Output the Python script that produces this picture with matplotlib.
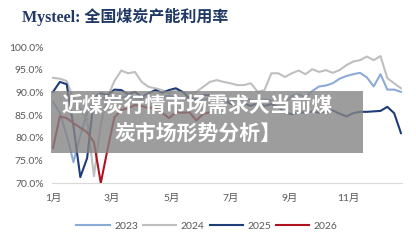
import numpy as np
import matplotlib.pyplot as plt
from matplotlib.patches import Rectangle

# weekly capacity utilisation (%)
y2023 = [87.9, 85.5, 80.5, 74.6, 80.5, 85.5, 88.0, 88.6, 88.9, 88.4, 88.8, 89.2,
         88.7, 88.5, 89.0, 88.6, 88.9, 89.3, 88.8, 88.4, 88.9, 88.6, 88.2, 88.7,
         89.0, 88.5, 88.1, 88.4, 88.8, 88.3, 88.0, 88.4, 88.2, 87.8, 87.5, 89.2,
         89.6, 88.8, 90.3, 91.3, 91.5, 92.0, 93.0, 93.6, 94.0, 94.3, 93.3, 91.3,
         94.0, 90.6, 90.6, 90.1]
y2024 = [93.2, 93.0, 92.5, 88.5, 86.5, 84.0, 71.5, 83.0, 89.0, 92.5, 94.8, 94.2,
         94.5, 92.3, 91.2, 90.9, 90.5, 89.8, 90.5, 90.1, 89.8, 90.1, 91.2, 92.3,
         92.7, 92.3, 92.0, 91.6, 91.6, 92.0, 90.1, 90.5, 94.2, 94.2, 93.4, 94.2,
         94.8, 94.0, 95.1, 94.5, 94.9, 94.3, 94.9, 96.0, 96.8, 97.1, 97.9, 97.1,
         98.0, 93.1, 92.0, 90.9]
y2025 = [90.1, 92.3, 91.8, 82.5, 71.3, 75.5, 88.8, 89.8, 89.4, 90.6, 90.5, 89.6,
         90.1, 89.0, 89.8, 90.5, 89.9, 90.5, 90.9, 90.1, 88.7, 88.3, 89.4, 89.4,
         89.4, 88.3, 87.5, 86.8, 87.5, 87.0, 87.6, 87.0, 87.4, 86.8, 85.5, 85.2,
         85.6, 85.5, 85.8, 85.5, 85.7, 86.0, 85.3, 84.7, 85.4, 85.7, 85.7, 85.8,
         85.9, 86.8, 85.4, 81.0]
y2026 = [77.7, 84.7, 84.3, 83.2, 82.2, 81.2, 79.0, 70.0, 77.5, 84.5, 86.1, 86.5,
         87.2, 87.0, 86.5, 86.8, 85.5, 84.3, 85.6, 85.5, 85.6, 83.8, 85.2, 85.6]

years = ['2023', '2024', '2025', '2026']
colors = ['#8eaad6', '#bfbfbf', '#1f3c78', '#b0121f']
months = ['1月', '3月', '5月', '7月', '9月', '11月']
month_no = [1, 3, 5, 7, 9, 11]

plt.rcParams['font.family'] = ['Lato', 'Noto Sans CJK SC', 'DejaVu Sans']

fig = plt.figure(figsize=(4.16, 2.46), dpi=100)
ax = fig.add_axes([52/416, 1-183/246, 350/416, 136/246])

for name, vals, c in zip(years, [y2023, y2024, y2025, y2026], colors):
    ax.plot(np.arange(len(vals)), vals, color=c, lw=1.5, label=name)

ax.set_xlim(-0.15, 51.15)
ax.set_ylim(70, 100)
ax.set_yticks(np.arange(70, 101, 5))
ax.set_yticklabels(['%.1f%%' % v for v in np.arange(70, 101, 5)])
ax.set_xticks([(m - 1) * 52 / 12 for m in month_no])
ax.set_xticklabels(months)
ax.tick_params(length=0, labelsize=7.5, colors='#595959')
ax.tick_params(axis='x', pad=8)
ax.tick_params(axis='y', pad=6)
for s in ['top', 'right', 'left']:
    ax.spines[s].set_visible(False)
ax.spines['bottom'].set_color('#d9d9d9')

ax.legend(loc='center', bbox_to_anchor=(207/416, 1-226/246),
          bbox_transform=fig.transFigure, ncol=4, frameon=False,
          fontsize=7.5, handlelength=3.2, handletextpad=0.4,
          columnspacing=0.5, labelcolor='#595959')

fig.text(22/416, 1-17/246, 'Mysteel: 全国煤炭产能利用率', fontsize=11.5,
         fontweight='heavy', color='#1f3864', va='center',
         family=['Liberation Serif', 'Noto Sans CJK SC'])

# grey banner laid over the plot
fig.patches.append(Rectangle((51/416, 1-153/246), 312/416, 62/246,
                             transform=fig.transFigure, facecolor='#858585',
                             alpha=0.8, edgecolor='none', zorder=5))
fig.text(197/416, 1-105/246, '近煤炭行情市场需求大当前煤', fontsize=15,
         fontweight='heavy', color='white', ha='center', va='center',
         family='Noto Sans CJK SC', zorder=6)
fig.text(198/416, 1-133/246, '炭市场形势分析】', fontsize=15,
         fontweight='heavy', color='white', ha='center', va='center',
         family='Noto Sans CJK SC', zorder=6)

fig.savefig('out.png', dpi=100)
